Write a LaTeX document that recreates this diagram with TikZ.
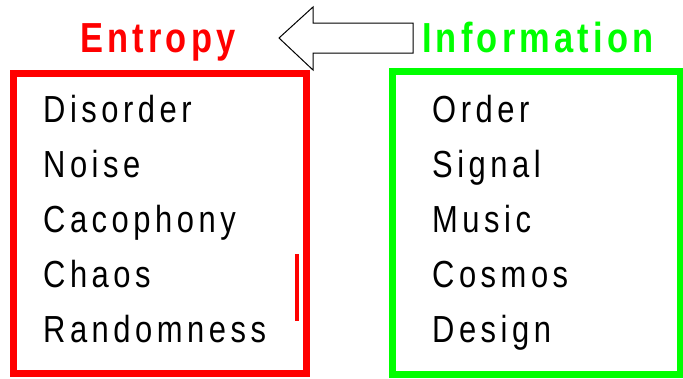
\documentclass[tikz,border=0pt]{standalone}
\usepackage{fontspec}
\setmainfont{Liberation Sans}
\newfontfamily\listfont[FakeStretch=0.82,LetterSpace=12]{Liberation Sans}
\newfontfamily\titlefont[FakeStretch=0.82,LetterSpace=10]{Liberation Sans Bold}
\definecolor{pred}{RGB}{255,0,0}
\definecolor{pgreen}{RGB}{0,255,0}
\tikzset{
  item/.style={anchor=base west, inner sep=0pt, font=\fontsize{37.7}{40}\listfont},
  ttl/.style={anchor=base west, inner sep=0pt, font=\fontsize{42}{44}\titlefont},
  frame/.style={line width=7pt},
}
\begin{document}
\begin{tikzpicture}[x=1pt,y=-1pt]
\useasboundingbox (0,0) rectangle (683,378);
\draw[frame, pred] (13.5,73.5) rectangle (306,373.5);
\draw[frame, pgreen] (392,71) rectangle (680,374);
\draw[pred, line width=4pt] (297,254) -- (297,321);
\draw[black, line width=1pt, fill=white] (279,38) -- (313,7) -- (313,23) -- (413,23) -- (413,53) -- (313,53) -- (313,70) -- cycle;
\node[ttl, text=pred] (entropy) at (80,52) {Entropy};
\node[ttl, text=pgreen] (information) at (422,52) {Information};
\node[item] (l1) at (43,122) {Disorder};
\node[item] (l2) at (43,177) {Noise};
\node[item] (l3) at (43,232) {Cacophony};
\node[item] (l4) at (43,287) {Chaos};
\node[item] (l5) at (43,342) {Randomness};
\node[item] (r1) at (432,122) {Order};
\node[item] (r2) at (432,177) {Signal};
\node[item] (r3) at (432,232) {Music};
\node[item] (r4) at (432,287) {Cosmos};
\node[item] (r5) at (432,342) {Design};
\end{tikzpicture}
\end{document}
